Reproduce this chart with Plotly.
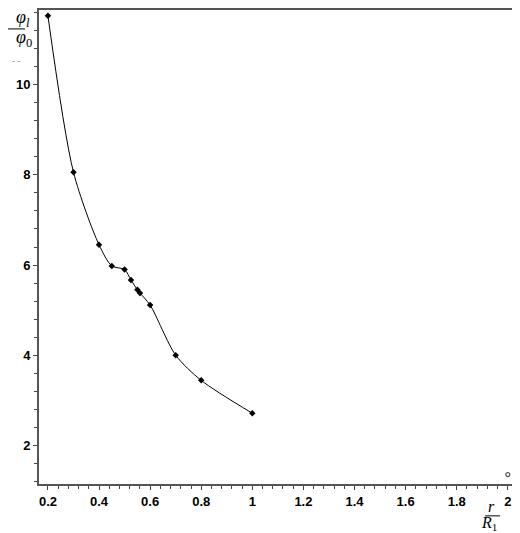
import plotly.graph_objects as go

# ratio r/R1 and potential ratio phi_l/phi_0
r_ratio = [0.2, 0.3, 0.4, 0.45, 0.5, 0.525, 0.55, 0.56, 0.6, 0.7, 0.8, 1.0]
phi_ratio = [11.53, 8.06, 6.45, 5.98, 5.90, 5.67, 5.45, 5.38, 5.11, 4.00, 3.44, 2.71]

# lone point far right
far_r = [2.0]
far_phi = [1.35]

x_ticks = [0.2, 0.4, 0.6, 0.8, 1, 1.2, 1.4, 1.6, 1.8, 2]
x_tick_text = ["0.2", "0.4", "0.6", "0.8", "1", "1.2", "1.4", "1.6", "1.8", "2"]
y_ticks = [2, 4, 6, 8, 10]

# page has an 8px body margin, so the figure is a bit smaller than the window
W, H = 512, 525
ML, MR, MT, MB = 31, 1, 0, 49
pw, ph = W - ML - MR, H - MT - MB


def px(x):
    # page pixel -> paper x
    return (x - 8 - ML) / pw


def py(y):
    # page pixel -> paper y
    return (H - MB - (y - 8)) / ph


fig = go.Figure()

fig.add_trace(go.Scatter(
    x=r_ratio, y=phi_ratio,
    mode="lines+markers",
    line=dict(color="black", width=1, shape="spline", smoothing=0.8),
    marker=dict(symbol="diamond", size=5, color="black"),
    showlegend=False,
))

fig.add_trace(go.Scatter(
    x=far_r, y=far_phi,
    mode="markers",
    marker=dict(symbol="circle-open", size=4, color="#555", line=dict(width=1.2)),
    showlegend=False,
))

tick_font = dict(family="Liberation Sans", size=13, color="black", weight="bold")

fig.update_layout(
    width=W, height=H,
    margin=dict(l=ML, r=MR, t=MT, b=MB),
    paper_bgcolor="white", plot_bgcolor="white",
    xaxis=dict(
        range=[0.165, 2.04], tickvals=x_ticks, ticktext=x_tick_text,
        ticks="outside", ticklen=4, tickcolor="#444",
        minor=dict(dtick=0.04, tick0=0.2, ticks="outside", ticklen=3, tickcolor="#444"),
        showgrid=False, zeroline=False,
        showline=True, linecolor="#555", linewidth=2, mirror=True,
        tickfont=tick_font,
    ),
    yaxis=dict(
        range=[1.14, 11.66], tickvals=y_ticks,
        ticks="outside", ticklen=4, tickcolor="#444",
        minor=dict(dtick=0.4, tick0=2, ticks="outside", ticklen=3, tickcolor="#444"),
        showgrid=False, zeroline=False,
        showline=True, linecolor="#555", linewidth=2, mirror=True,
        tickfont=tick_font,
    ),
)

frac_font = dict(family="Liberation Serif", size=18, color="black")
small_frac = dict(family="Liberation Serif", size=16, color="black")

# y label as a fraction at the top left
fig.add_annotation(xref="paper", yref="paper", x=px(14), y=py(17), yanchor="middle",
                   text="<i>φ<sub>l</sub></i>", showarrow=False, font=frac_font)
fig.add_annotation(xref="paper", yref="paper", x=px(14), y=py(37), yanchor="middle",
                   text="<i>φ</i><sub>0</sub>", showarrow=False, font=frac_font)
fig.add_shape(type="line", xref="paper", yref="paper",
              x0=px(2), x1=px(25), y0=py(27), y1=py(27),
              line=dict(color="black", width=1))
fig.add_annotation(xref="paper", yref="paper", x=px(10), y=py(52),
                   text="- -", showarrow=False,
                   font=dict(family="Liberation Sans", size=9, color="#888"))

# x label as a fraction at the bottom right
fig.add_annotation(xref="paper", yref="paper", x=px(498), y=py(507), yanchor="middle",
                   text="<i>r</i>", showarrow=False, font=small_frac)
fig.add_annotation(xref="paper", yref="paper", x=px(500), y=py(524), yanchor="middle",
                   text="<i>R</i><sub>1</sub>", showarrow=False, font=small_frac)
fig.add_shape(type="line", xref="paper", yref="paper",
              x0=px(486), x1=px(501), y0=py(516), y1=py(516),
              line=dict(color="black", width=1))

fig.write_html("out.html")
